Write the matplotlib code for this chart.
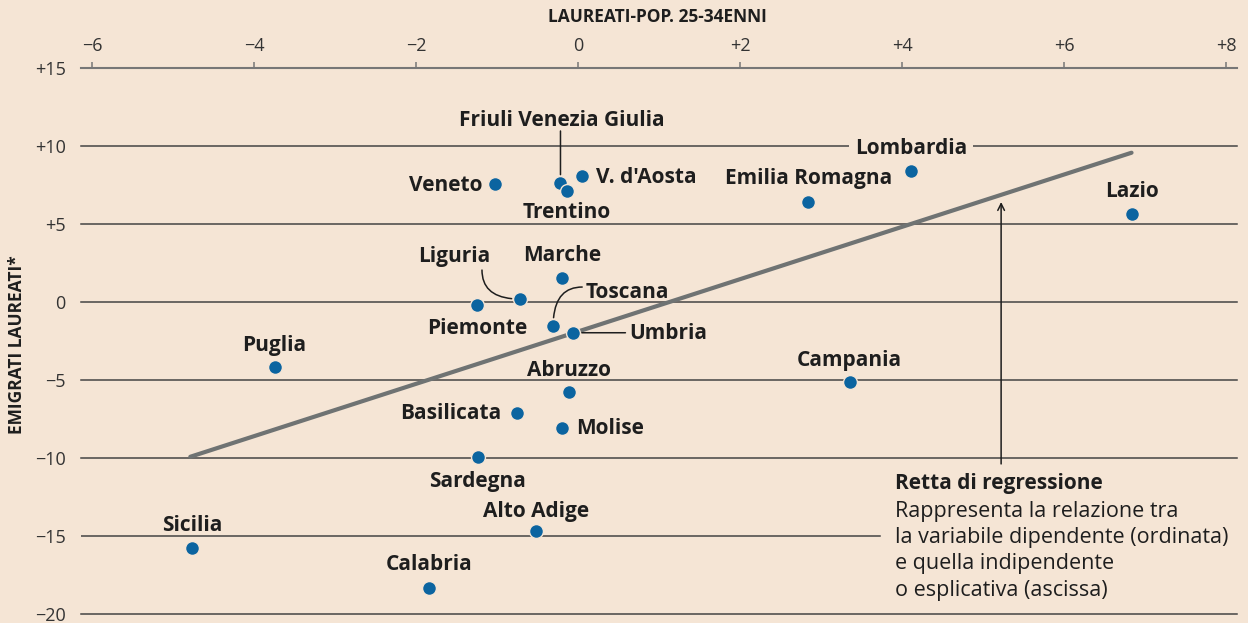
import matplotlib.pyplot as plt

# data
regions = ['Veneto', 'Friuli Venezia Giulia', 'Trentino', "V. d'Aosta", 'Lombardia',
           'Emilia Romagna', 'Lazio', 'Marche', 'Liguria', 'Piemonte', 'Toscana', 'Umbria',
           'Puglia', 'Campania', 'Abruzzo', 'Basilicata', 'Molise', 'Sardegna', 'Alto Adige',
           'Sicilia', 'Calabria']
laureati = [-1.03, -0.22, -0.14, 0.05, 4.11, 2.84, 6.84, -0.20, -0.72, -1.25, -0.31, -0.06,
            -3.75, 3.35, -0.11, -0.76, -0.20, -1.24, -0.52, -4.77, -1.84]
emigrati = [7.54, 7.61, 7.12, 8.04, 8.38, 6.41, 5.64, 1.50, 0.17, -0.21, -1.56, -1.99,
            -4.19, -5.15, -5.77, -7.12, -8.12, -9.97, -14.68, -15.77, -18.35]

reg_x = [-4.79, 6.83]
reg_y = [-9.94, 9.55]

x_ticks = [-6, -4, -2, 0, 2, 4, 6, 8]
y_ticks = [15, 10, 5, 0, -5, -10, -15, -20]

note_title = 'Retta di regressione'
note_lines = ['Rappresenta la relazione tra',
              'la variabile dipendente (ordinata)',
              'e quella indipendente',
              'o esplicativa (ascissa)']

# label placement, offsets in pixels: (dx, dy, ha)
label_pos = {
    'Veneto': (-12, 1, 'right'),
    'Friuli Venezia Giulia': (1, 64, 'center'),
    'Trentino': (0, -20, 'center'),
    "V. d'Aosta": (14, 1, 'left'),
    'Lombardia': (0, 24, 'center'),
    'Emilia Romagna': (0, 25, 'center'),
    'Lazio': (0, 24, 'center'),
    'Marche': (0, 25, 'center'),
    'Liguria': (-66, 45, 'center'),
    'Piemonte': (0, -22, 'center'),
    'Toscana': (32, 36, 'left'),
    'Umbria': (56, 1, 'left'),
    'Puglia': (0, 24, 'center'),
    'Campania': (0, 24, 'center'),
    'Abruzzo': (0, 23, 'center'),
    'Basilicata': (-15, 1, 'right'),
    'Molise': (14, 2, 'left'),
    'Sardegna': (0, -22, 'center'),
    'Alto Adige': (0, 21, 'center'),
    'Sicilia': (0, 24, 'center'),
    'Calabria': (0, 25, 'center'),
}
# leader lines: (start offset px, connection style)
leaders = {
    'Friuli Venezia Giulia': ((0, 52), 'arc3'),
    'Liguria': ((-38, 29), 'angle3,angleA=90,angleB=0'),
    'Toscana': ((29, 39), 'angle3,angleA=0,angleB=90'),
    'Umbria': ((52, 0), 'arc3'),
}

bg = '#f5e5d5'
dot = '#0b64a0'
ink = '#1e1e1e'
W, H = 1248, 623

plt.rcParams['font.family'] = ['Open Sans', 'DejaVu Sans']

fig = plt.figure(figsize=(W / 100, H / 100), dpi=100, facecolor=bg)
ax = fig.add_axes([81 / W, 1 - 613.7 / H, (1237 - 81) / W, (613.7 - 67.7) / H])
ax.set_facecolor(bg)
ax.set_xlim((81 - 578.3) / 81, (1237 - 578.3) / 81)
ax.set_ylim(-20, 15)


def fmt(v):
    if v == 0:
        return '0'
    return '+%d' % v if v > 0 else '\u2212%d' % -v


for s in ['left', 'right', 'bottom']:
    ax.spines[s].set_visible(False)
ax.spines['top'].set_color('#777777')
ax.spines['top'].set_linewidth(1.5)
ax.xaxis.tick_top()
ax.set_xticks(x_ticks)
ax.set_xticklabels([fmt(v) for v in x_ticks])
ax.tick_params(axis='x', length=4.5, width=1.1, color='#777777', pad=5,
               labelsize=13, labelcolor='#333333')
ax.set_yticks(y_ticks)
ax.set_yticklabels([fmt(v) for v in y_ticks])
ax.tick_params(axis='y', length=0, pad=11, labelsize=13, labelcolor='#333333')

# gridlines
for v in y_ticks[1:]:
    if v == -15:
        ax.plot([ax.get_xlim()[0], 3.72], [v, v], color='#444444', lw=1.1, zorder=1)
    else:
        ax.axhline(v, color='#444444', lw=1.1, zorder=1, clip_on=False)

# regression line
ax.plot(reg_x, reg_y, color='#6f7373', lw=3, solid_capstyle='round', zorder=2)

ax.scatter(laureati, emigrati, s=100, color=dot, edgecolors=bg, linewidths=1,
           zorder=4, clip_on=False)

for name, x, y in zip(regions, laureati, emigrati):
    dx, dy, ha = label_pos[name]
    bbox = None
    if name == 'Lombardia':
        bbox = dict(facecolor=bg, edgecolor='none', pad=4)
    ax.annotate(name, (x, y), xytext=(dx, dy - 2), textcoords='offset pixels',
                ha=ha, va='center', fontsize=15, fontweight='bold', color=ink,
                bbox=bbox, zorder=5)
    if name in leaders:
        start, style = leaders[name]
        ax.annotate('', (x, y), xytext=start, textcoords='offset pixels',
                    arrowprops=dict(arrowstyle='-', color=ink, lw=1.1, shrinkA=0,
                                    shrinkB=6, connectionstyle=style), zorder=3)

# arrow to the regression line
ax.annotate('', xy=(5.22, 6.39), xytext=(5.22, -10.4),
            arrowprops=dict(arrowstyle='->', color=ink, lw=1.1, shrinkA=0, shrinkB=0,
                            mutation_scale=12), zorder=3)

fig.text(895 / W, 1 - 484 / H, note_title, ha='left', va='center', fontsize=15,
         fontweight='bold', color=ink)
for i, line in enumerate(note_lines):
    fig.text(895 / W, 1 - (511 + 26.5 * i) / H, line, ha='left', va='center',
             fontsize=15.5, color=ink)

fig.text(657 / W, 1 - 17 / H, 'LAUREATI-POP. 25-34ENNI', ha='center', va='center',
         fontsize=12.5, fontweight='bold', color=ink)
fig.text(17 / W, 1 - 345 / H, 'EMIGRATI LAUREATI*', ha='center', va='center',
         rotation=90, fontsize=12.5, fontweight='bold', color=ink)

fig.savefig('out.png', dpi=100, facecolor=bg)
